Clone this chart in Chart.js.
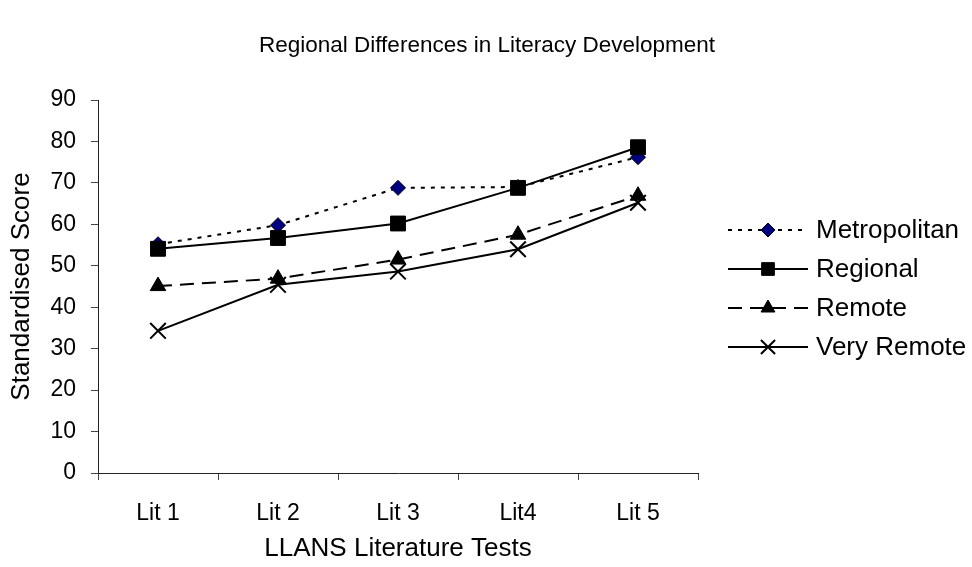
<!DOCTYPE html>
<html>
<head>
<meta charset="utf-8">
<script src="https://cdn.jsdelivr.net/npm/chart.js@4.4.1/dist/chart.umd.min.js"></script>
<style>
html,body{margin:0;padding:0;background:#fff;}
#wrap{width:972px;height:567px;position:relative;}
</style>
</head>
<body>
<div id="wrap"><canvas id="c" width="972" height="567"></canvas></div>
<script>
const categories = ["Lit 1", "Lit 2", "Lit 3", "Lit4", "Lit 5"];
const metropolitan = [55.2, 59.8, 68.8, 69.0, 76.2];
const regional = [54.1, 56.7, 60.2, 68.8, 78.6];
const remote = [45.1, 46.9, 51.5, 57.5, 66.9];
const veryRemote = [34.3, 45.4, 48.6, 54.0, 65.2];
const seriesNames = ["Metropolitan", "Regional", "Remote", "Very Remote"];
const yTicks = [0, 10, 20, 30, 40, 50, 60, 70, 80, 90];
const chartTitle = "Regional Differences in Literacy Development";

const FONT = "'Liberation Sans', Arial, sans-serif";
Chart.defaults.font.family = FONT;
Chart.defaults.color = '#000';

const decorPlugin = {
  id: 'decor',
  afterDraw(chart) {
    const ctx = chart.ctx;
    ctx.save();
    ctx.fillStyle = '#000';
    ctx.font = '22.5px ' + FONT;
    ctx.textAlign = 'center';
    ctx.textBaseline = 'middle';
    ctx.fillText(chartTitle, 487, 46);
    ctx.restore();
    const x0 = 728, x1 = 808, xm = 768, xt = 816;
    chart.data.datasets.forEach((ds, i) => {
      const y = 230 + i * 39;
      ctx.save();
      ctx.strokeStyle = ds.borderColor;
      ctx.lineWidth = ds.borderWidth;
      ctx.setLineDash(ds.borderDash || []);
      ctx.beginPath();
      ctx.moveTo(x0, y);
      ctx.lineTo(x1, y);
      ctx.stroke();
      ctx.setLineDash([]);
      ctx.fillStyle = ds.pointBackgroundColor;
      ctx.strokeStyle = ds.pointBorderColor;
      ctx.lineWidth = ds.pointBorderWidth;
      Chart.helpers.drawPoint(ctx, {pointStyle: ds.pointStyle, radius: ds.legendRadius, rotation: 0, borderWidth: ds.pointBorderWidth}, xm, y);
      ctx.fillStyle = '#000';
      ctx.font = '26px ' + FONT;
      ctx.textBaseline = 'middle';
      ctx.textAlign = 'left';
      ctx.fillText(ds.label, xt, y + 1);
      ctx.restore();
    });
  }
};

new Chart(document.getElementById('c'), {
  type: 'line',
  data: {
    labels: categories,
    datasets: [
      {label: seriesNames[0], data: metropolitan, borderColor: '#000', borderWidth: 2, borderDash: [4, 6],
       pointStyle: 'rectRot', pointRadius: 7.5, legendRadius: 7, pointBackgroundColor: '#000080', pointBorderColor: '#000', pointBorderWidth: 1, order: 4},
      {label: seriesNames[1], data: regional, borderColor: '#000', borderWidth: 2, borderDash: [],
       pointStyle: 'rect', pointRadius: 10.5, legendRadius: 9, pointBackgroundColor: '#000', pointBorderColor: '#000', pointBorderWidth: 1, order: 3},
      {label: seriesNames[2], data: remote, borderColor: '#000', borderWidth: 2, borderDash: [14, 8],
       pointStyle: 'triangle', pointRadius: 9, legendRadius: 8, pointBackgroundColor: '#000', pointBorderColor: '#000', pointBorderWidth: 1, order: 2},
      {label: seriesNames[3], data: veryRemote, borderColor: '#000', borderWidth: 2, borderDash: [],
       pointStyle: 'crossRot', pointRadius: 11, legendRadius: 10, pointBackgroundColor: '#000', pointBorderColor: '#000', pointBorderWidth: 2, order: 1}
    ]
  },
  options: {
    responsive: false,
    animation: false,
    layout: {padding: {left: 0, right: 274, top: 100, bottom: 0}},
    plugins: {
      legend: {display: false},
      tooltip: {enabled: false},
      title: {display: false}
    },
    elements: {line: {tension: 0}},
    scales: {
      x: {
        type: 'category',
        offset: true,
        grid: {display: true, drawOnChartArea: false, drawTicks: true, tickLength: 7, offset: true, color: '#444'},
        border: {display: true, color: '#222', width: 1},
        ticks: {font: {size: 23, family: FONT}, color: '#000', padding: 20, maxRotation: 0},
        title: {display: true, text: 'LLANS Literature Tests', color: '#000', font: {size: 26, family: FONT}, padding: {top: 0, bottom: 3}},
        afterFit(s) { s.height = 94; }
      },
      y: {
        min: 0, max: 90,
        afterBuildTicks(s) { s.ticks = yTicks.map(v => ({value: v})); },
        grid: {display: true, drawOnChartArea: false, drawTicks: true, tickLength: 7, color: '#444'},
        border: {display: true, color: '#222', width: 1},
        ticks: {font: {size: 23, family: FONT}, color: '#000', padding: 15},
        title: {display: true, text: 'Standardised Score', color: '#000', font: {size: 26, family: FONT}, padding: {top: 6, bottom: 0}},
        afterFit(s) { s.width = 98; }
      }
    }
  },
  plugins: [decorPlugin]
});
</script>
</body>
</html>
